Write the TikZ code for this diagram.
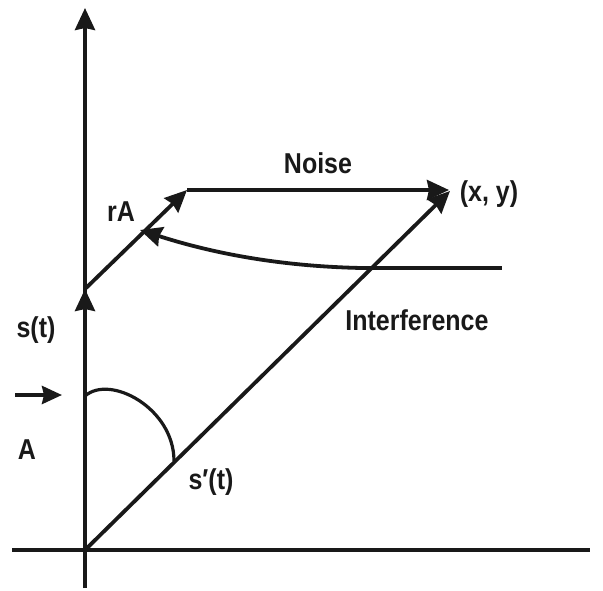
\documentclass[tikz,border=0pt]{standalone}
\usepackage{fontspec}
\setmainfont{Liberation Sans}
\usetikzlibrary{arrows.meta}
\begin{document}
\begin{tikzpicture}[x=1pt,y=-1pt,
  ln/.style={line width=3.8pt, color=black!90},
  arr/.style={ln,-{Stealth[length=22pt,width=20pt,inset=2pt]}},
  lbl/.style={font=\fontsize{25}{28}\selectfont\bfseries, text=black!90, inner sep=0pt, yscale=1.15}]
\useasboundingbox (0,0) rectangle (603,590);
% coordinates
\coordinate (O) at (85,550);
\coordinate (top) at (85,8);
\coordinate (bot) at (85,588);
\coordinate (xl) at (12,550);
\coordinate (xr) at (590,550);
\coordinate (S) at (85,289);
\coordinate (R) at (187,190);
\coordinate (N) at (449,190);
\coordinate (XY) at (450,191);
\coordinate (I1) at (362,268);
\coordinate (I2) at (502,268);
\coordinate (C) at (140,230);
\coordinate (a1) at (15,395);
\coordinate (a2) at (62,395);
\coordinate (g1) at (85,396);
\coordinate (g2) at (174,461);
% axes
\draw[ln] (xl) -- (xr);
\draw[arr] (bot) -- (top);
\draw[arr] (O) -- (S);
% vectors
\draw[arr] (S) -- (R);
\draw[arr] (R) -- (N);
\draw[arr] (O) -- (XY);
% interference
\draw[ln] (I1) -- (I2);
\draw[arr] (I1) .. controls (260,266) and (190,246) .. (C);
% small arrow
\draw[ln,-{Stealth[length=20pt,width=18pt,inset=2pt]}] (a1) -- (a2);
% angle arc
\draw[ln,line width=3.2pt] (g1) .. controls (110,374) and (174,408) .. (g2);
% labels
\node[lbl] (noise) at (318,163) {Noise};
\node[lbl] (xy) at (489,194) {(x, y)};
\node[lbl] (ra) at (121,212) {rA};
\node[lbl] (st) at (36,330) {s(t)};
\node[lbl] (a) at (27,450) {A};
\node[lbl] (spt) at (211,482) {s′(t)};
\node[lbl] (intf) at (417,320) {Interference};
\end{tikzpicture}
\end{document}
